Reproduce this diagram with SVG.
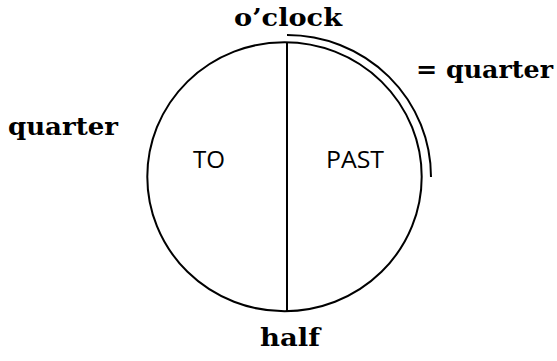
<svg xmlns="http://www.w3.org/2000/svg" width="557" height="361" viewBox="0 0 557 361">
<style>
.lbl{font-family:"DejaVu Serif","Liberation Serif",serif;font-weight:bold;font-size:25px;fill:#000}
.in{font-family:"Open Sans","Liberation Sans",sans-serif;font-size:24px;fill:#000}
.ln{fill:none;stroke:#000;stroke-width:2}
</style>
<rect width="557" height="361" fill="#fff"/>
<g id="clock">
<ellipse class="ln" cx="284.5" cy="176.7" rx="137.2" ry="134.5"/>
<text class="in" x="193" y="168" textLength="32" lengthAdjust="spacingAndGlyphs">TO</text>
<text class="in" x="326" y="168" textLength="58" lengthAdjust="spacingAndGlyphs">PAST</text>
</g>
<g id="connectors">
<line class="ln" x1="287" y1="42" x2="287" y2="311"/>
<path class="ln" d="M287,35 A144,142 0 0 1 431,177"/>
</g>
<g id="labels">
<text class="lbl" x="234" y="26" textLength="108" lengthAdjust="spacingAndGlyphs">o’clock</text>
<text class="lbl" x="416" y="78" textLength="137" lengthAdjust="spacingAndGlyphs">= quarter</text>
<text class="lbl" x="8" y="135" textLength="110" lengthAdjust="spacingAndGlyphs">quarter</text>
<text class="lbl" x="260" y="346" textLength="60" lengthAdjust="spacingAndGlyphs">half</text>
</g>
</svg>
